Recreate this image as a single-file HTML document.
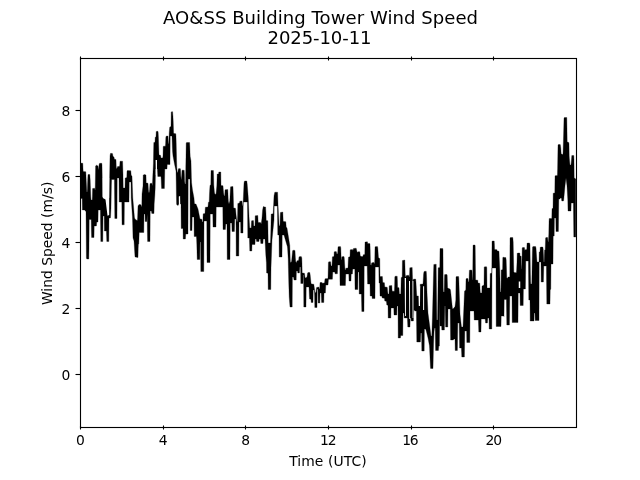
<!DOCTYPE html>
<html lang="en">
<head>
<meta charset="utf-8">
<title>AO&amp;SS Building Tower Wind Speed 2025-10-11</title>
<style>
html,body{margin:0;padding:0;background:#fff;}
body{width:640px;height:480px;overflow:hidden;}
svg{display:block;}
text{font-family:"DejaVu Sans","Liberation Sans",sans-serif;fill:#000;}
.t{font-size:18.06px;text-anchor:middle;letter-spacing:0px;}
.l{font-size:13.89px;text-anchor:middle;letter-spacing:0px;}
.yt{font-size:13.89px;text-anchor:end;}
.tick{stroke:#000;stroke-width:1.1111;fill:none;}
.frame{stroke:#000;stroke-width:1.1111;fill:none;stroke-linejoin:miter;stroke-linecap:square;}
.data{fill:#000;stroke:#000;stroke-width:0.3;stroke-linejoin:round;}
.hole{fill:#fff;stroke:none;}
</style>
</head>
<body>
<svg width="640" height="480" viewBox="0 0 640 480">
<rect x="0" y="0" width="640" height="480" fill="#ffffff"/>
<defs><clipPath id="ax"><rect x="80.0" y="57.6" width="496.0" height="369.6"/></clipPath></defs>
<g clip-path="url(#ax)"><path class="data" d="M80 163L82.8 163.3L83 168.77L83.2 171.51L85.8 171.8L86 175.9L86.2 180L86.8 192L87 192L87.2 192L87.4 189L87.6 183L87.8 178.17L88 174.5L88.2 174.5L89.8 174.5L90 177.25L90.2 180L90.4 185.67L90.8 197L91 200L91.2 200L92.2 200L92.4 196.17L92.6 188.5L92.8 188.47L94.6 188.2L94.8 189.1L95 190L95.2 190L95.4 178L95.6 165.92L96.4 165.28L96.6 165.25L98 166L98.2 167.8L98.4 169.6L98.6 169.4L99 165L99.2 164.32L99.4 163.64L99.6 163.3L101.8 163.3L102 165.1L102.2 176.33L102.4 197L102.6 197.05L104.4 197.48L104.6 197.52L107 198L107.2 198L109.2 198L109.4 189L109.6 180L109.8 168L110 156L110.2 154.92L110.4 153.84L110.6 153.31L112.4 153.49L112.6 154.1L113 156.5L113.2 156.6L114 157L114.2 158.1L114.4 159.2L114.6 159.24L116 159.5L116.2 165.5L116.4 168.5L117 168.5L117.2 167.7L117.4 166.9L117.6 166.5L119.4 166.5L119.6 166L119.8 165L120 161.2L120.2 161.2L122.6 161.2L122.8 168.1L123 175L123.2 188L123.4 188L125 188L125.2 178L125.4 177.94L126.8 177.5L127 171L127.2 170.8L127.4 170.6L127.6 170.51L130.8 170.7L131 173.1L131.2 175.5L131.4 175.62L132 176L132.2 181.6L132.4 187.2L132.6 192.67L132.8 198L134.4 216.82L134.6 218.13L136 220L137.4 220.47L137.6 217.6L138 206L138.2 205.7L139 204.5L139.2 204.53L141 204.8L141.2 205.44L141.8 207.36L142 194L143 186L143.2 175L143.4 174.92L144.4 174.54L144.6 174.53L146 175L146.2 183L146.4 183.02L148 183.2L148.2 186.32L148.4 189.44L148.6 191.4L149 193L149.2 192.2L149.4 191.4L149.6 189.5L150 183.5L150.2 183.47L151.8 183.2L152 184.13L152.4 186L152.6 181L152.8 176L153 172L153.2 168L153.4 163.5L153.6 151.5L153.8 142.5L154 142.47L155 142.3L155.2 137.18L156 137L156.2 131.49L158 131.3L158.2 133.1L158.4 137L159 155L159.2 155.03L160.4 155.19L160.6 155.6L160.8 156.67L161 158L161.2 158L162.6 158L162.8 157.33L163 156L163.2 147L163.4 146.2L163.6 146.2L165.4 146.2L165.6 143.47L165.8 138L166 136.2L166.2 136.18L168 136L168.2 140.67L168.4 143.2L168.8 144L169 138.5L169.2 133L169.4 130.6L169.6 128.2L169.8 126.96L171 126.5L171.2 112.3L171.4 111.9L171.6 111.7L172.6 111.7L172.8 114.22L173 116.74L173.2 121L173.6 133L173.8 133.25L174 133.5L174.2 133.52L175.8 133.7L176 136.57L176.2 142.5L176.4 151.5L176.6 161L176.8 167.2L177.2 172L177.4 172.17L177.8 172.5L178 171.1L178.2 169.7L178.4 168.88L178.6 168.63L178.8 168.51L180.4 168.69L180.6 171.13L180.8 176L181 178L181.2 180L181.4 178.4L181.6 176.8L181.8 174.07L182 170.2L182.2 170.2L184.2 170.2L184.4 173.8L184.6 181L184.8 182.5L185 184L185.2 184L185.6 184L185.8 166L186 156L186.2 143L186.4 142.75L186.6 142.5L189.6 142.5L189.8 146.17L190 152L190.2 156.56L191 161L191.2 169.4L191.4 177.8L191.6 182.8L192.4 189.2L192.6 190.53L194 198L194.2 200.4L194.4 202.8L194.6 204L196 204L198 209L199.8 218L200 219L201.8 219.2L202 220.6L202.2 222L202.4 222L202.8 222L203 217.9L203.2 213.8L203.4 213.77L205 213.5L205.2 209.3L205.4 207.19L208 207L208.2 204.6L208.4 202.2L208.6 202.15L209.2 202L209.4 196L209.6 191.44L210 185.2L210.2 185.15L210.8 185L211 170.5L211.2 170.5L213.4 170.5L213.6 175.33L213.8 185L214 187.29L214.4 191.86L214.6 193.2L215 194L215.2 194.1L216 194.5L216.2 192.38L216.8 186L217 180L217.2 174L217.4 174L218.6 174L218.8 172L219 172L220.8 172L221 185.5L221.2 185.52L223 185.7L223.2 188.22L223.4 190.74L223.6 192.7L224 195.5L224.2 195.64L224.6 195.93L224.8 193.93L225 189.8L225.2 189.78L227.8 189.5L228 194.1L228.2 198.7L228.4 201.43L229 204L229.2 203.25L229.8 201L230 196.94L230.4 188.83L230.6 186.79L233 186.5L233.2 192.83L233.4 200L233.6 208L233.8 208.02L235.4 208.19L235.6 209.36L236 214L236.2 215.87L236.8 221.5L237 221.5L237.4 221.5L237.6 215.5L237.8 203.5L238 203.44L239.4 203.03L239.6 202.4L239.8 201.2L240 201.18L242 201L242.2 203.25L242.4 205.5L242.6 205.75L242.8 206L243 203.5L243.2 201L243.4 196.5L244 183L244.2 182.2L244.4 181.4L244.6 181L246.8 181L247 182.5L247.2 184L247.4 186.54L248.2 196.73L248.4 200.57L249 216L249.2 219.2L249.4 222.4L249.6 226L249.8 228L251.2 228L251.4 223.2L251.6 220.79L253.4 220.52L253.6 222.33L253.8 226L254 226L255 226L255.2 215.8L255.4 215.78L257.8 215.5L258 219L258.2 222.5L258.4 222.5L260.4 222.5L260.6 222.71L261.2 224L261.4 222.5L262 218L262.2 215.33L262.6 210L262.8 209L263.2 207L263.4 206.75L263.8 206.25L264 207L265.6 207L265.8 210.5L266 214L266.2 220.5L266.4 220.52L267.8 220.7L268 232L268.2 243L268.4 243L270.4 243L270.6 239.33L270.8 232L271 223L271.2 214L271.4 213.98L273.2 213.8L273.4 209.35L274 196L274.2 195.05L274.8 192.2L275 192.2L277.6 192.2L277.8 198.1L278 204L278.2 208L279 224L279.2 224.8L279.4 225.6L279.6 226L280 226L280.2 217L280.4 212.48L282.8 212L283 216.5L283.2 221L283.4 221.25L283.6 221.5L283.8 221.52L285.8 221.7L286 224.35L286.2 227L286.4 227.25L286.8 227.75L287 228L288.4 236.4L288.6 237.65L289.8 245.5L290 252.1L290.2 258.7L290.4 262.1L290.8 262.5L291 262.36L291.4 262.07L291.6 260.98L292.6 250.8L292.8 250.5L293 250.2L293.2 250.22L295 250.4L295.2 254.2L295.4 258L295.6 260L295.8 262L296 262.14L296.4 262.43L296.6 262.16L297 260.8L297.2 260.76L298.6 260.5L298.8 258.65L299 256.8L299.2 256.77L301.2 256.51L301.4 256.8L301.8 258L302 264L302.2 273L302.4 273.02L304.4 273.19L304.6 274.06L305 277.5L305.2 277.62L305.8 278L306 277.83L307 277L307.2 275.67L307.6 273L307.8 272.75L308 272.5L308.2 272.5L309.8 272.5L310 273.75L310.2 275L310.4 277L311 283L311.2 283.5L311.4 284L311.6 284.02L313.8 284.2L314 285.57L314.4 288.31L314.6 289.5L315.2 292.5L315.4 292.57L316 292.8L316.2 290.68L316.4 288.56L316.6 287.48L318.8 287L319 287.9L319.2 288.8L319.4 288.88L319.6 288.96L319.8 286.93L320 282.5L322 282.5L322.4 283.2L324.4 283.01L324.6 282.16L325 278.8L325.2 278.78L328 278.5L328.2 270.5L328.4 262.5L328.6 262.15L328.8 261.8L329 261.8L330.6 261.8L330.8 263.65L331 265.5L331.2 265.7L331.4 265.9L331.6 265.9L332 265.5L332.2 261.15L332.4 256.8L332.6 256.76L334 256.5L334.2 251.8L334.4 251.77L336.2 251.51L336.4 251.96L336.8 253.8L337 253.9L337.2 254L337.4 253.8L337.6 253.6L337.8 251.27L338 246.8L338.2 246.78L340.4 246.51L340.6 247L340.8 248L341 254L341.2 260L341.4 260L341.6 258.93L341.8 256.8L342 256.77L344 256.5L344.2 257.5L344.4 259.71L345 270L345.2 270L345.4 270L345.6 269.4L345.8 268.2L346 268.18L348 268L348.2 262.67L348.4 258.5L348.6 256.99L350 256.8L350.2 249.8L350.4 249.77L352.4 249.51L352.6 249.77L352.8 250.3L353 250.43L353.2 249.83L353.4 248.5L353.6 248.48L356.2 248.2L356.4 249.1L356.6 250L356.8 250.83L357.2 252.5L357.4 252.27L357.8 251.8L358 251.8L359.8 251.8L360 253.65L360.2 255.5L360.4 255.75L361 256.5L361.2 256.5L363 256.5L363.2 254.8L363.4 254.76L364.8 254.5L365 242L365.2 241.98L367.4 241.81L367.6 242.8L367.8 243.8L368 243.8L368.2 243.5L368.4 243.5L369.8 243.5L370 244.5L370.2 250L370.4 260L370.6 265.03L371.2 265.2L371.4 264.24L371.6 263.28L371.8 262.79L374 262.5L374.2 263.37L374.4 263.8L374.6 263.8L374.8 258.14L375 246.8L375.2 246.78L377.4 246.51L377.6 247L377.8 248L378 250.86L378.4 256.57L378.6 258.04L379.8 258.5L380 276.5L382.4 276.5L382.6 279.5L382.8 282.51L384.4 282.69L384.6 284.85L384.8 287.01L387.2 287.19L387.4 288.47L387.6 291L387.8 292.5L388 294L388.2 294L389 294L389.2 285.8L389.4 285.78L391.8 285.5L392 289.17L392.2 291.05L392.4 291.15L392.6 291.2L394.4 291.2L394.6 286.47L394.8 277L395 276.6L395.2 276.2L395.4 276.2L397.2 276.2L397.4 279.97L397.6 287.5L397.8 287.53L399 287.7L399.2 290.85L399.4 294L399.6 294L400.8 294L401 285.75L401.2 277.5L401.4 277.4L402.2 277L402.4 260.5L402.6 260.46L404.8 260L405 267L405.2 274L405.4 275.5L405.6 277L405.8 277L406 277L406.2 276L406.4 275.49L408.6 275.21L408.8 275.65L409 276.55L409.2 277L409.4 277L409.6 273.93L409.8 267.8L410 267.78L412.2 267.5L412.4 274.25L412.6 281L412.8 281L413 281L413.2 279.8L413.4 279.19L415.6 279.01L415.8 280.25L416 282.75L416.2 286L416.4 290L416.6 293.33L416.8 296L417 296L419.8 296L420 290.1L420.2 284.2L420.4 284.19L423 284L423.2 280.67L423.6 274L423.8 272.75L424 271.5L424.2 271.47L426.2 271.2L426.4 273.07L426.6 277.6L427 292L427.2 296.2L428 313L428.2 314.5L430 328L430.2 329.6L431 336L431.2 336L431.8 336L432 329.72L432.4 317.14L432.6 310L433.4 278L433.6 270.84L433.8 264.5L434 264.48L436.2 264.2L436.4 282.73L436.6 301.33L436.8 319.99L437 320L437.6 320L437.8 302.01L438 284.01L438.2 267.8L438.4 267.76L439.8 267.5L440 248.5L442.8 248.5L443 250L443.2 288L443.4 292L443.6 292L444.2 292L444.4 280.67L444.6 274.83L444.8 274.5L445 274.5L447 274.5L447.2 275.5L447.4 282L447.6 288.04L450 289L450.2 289.4L450.4 289.8L450.6 290.95L452.4 308.05L452.6 308.95L453.4 308.55L453.6 308.37L455 306.5L455.2 304.88L455.8 300L456 277L456.2 276.75L456.4 276.5L456.6 276.5L458.6 276.5L458.8 278L459 284L460 314L460.2 315.73L461.4 326.13L461.6 327L463 327L463.2 322.4L464 304L464.2 298.8L464.4 293.6L464.6 290.92L465.8 290L466 279L466.2 278.67L466.4 278.5L468 278.5L468.2 280L468.4 281.5L468.6 281.67L469 282L469.2 274.33L469.4 270.38L469.6 270.13L469.8 270.01L472 270.2L472.2 276.73L472.4 280L472.6 280L472.8 268.5L473 245.5L473.2 245.17L473.4 245L475 245L475.2 246.33L475.4 263.49L475.6 280.01L477.8 280.2L478 283L478.2 283.02L479.8 283.2L480 288L480.2 291.33L480.4 293L481.8 293L482 286L482.2 285.9L484 285L484.2 267.2L484.4 266.93L484.6 266.8L486.6 266.8L486.8 268.27L487 287.99L487.2 288L490 288L490.2 273.5L490.4 273.44L491.8 273L492 241.51L492.2 241.17L492.4 241L494.2 241L494.4 243.83L494.6 249.5L494.8 249.52L497 249.7L497.2 251L497.4 251.02L499 251.2L499.2 257L499.4 261.33L499.8 270L500 279L500.2 288L500.4 292L500.6 292L501 292L501.2 270.01L501.4 269.93L502.6 269.5L502.8 257.5L503 257.42L503.8 257.08L504 257.5L505.8 257.5L506 258.75L506.2 260L506.4 266L506.8 278L507 278.04L507.8 278.2L508 277L508.2 277L509.8 277L510 238L510.2 237.75L510.4 237.5L510.6 237.5L512.8 237.5L513 239.75L513.2 242L513.4 252L513.8 272L514 272.25L514.2 272.5L514.4 272.52L516.4 272.69L516.6 270.56L517 262L517.2 253.5L517.4 253.25L517.6 253L517.8 253L519.8 253L520 256L520.2 256.03L521.2 256.2L521.4 264.73L521.6 269L521.8 269L522 262L522.2 248L522.4 247.75L522.6 247.5L522.8 247.5L524.4 247.5L524.6 248.5L524.8 250.5L525 250.15L525.2 249.8L525.4 249.76L526.8 249.5L527 243.5L527.2 243.25L527.4 243L527.6 243L529.6 243L529.8 244L530 245L530.2 259L530.4 273L530.6 281.33L530.8 284L531 284L531.8 284L532 273L532.2 262L532.4 252L532.6 246.9L533 246.5L533.2 246.5L535.6 246.5L535.8 247.25L536 248L536.2 250.8L537 262L537.2 262L539 262L539.2 252L539.4 251.95L540 251.8L540.2 247.5L540.4 247.25L540.6 247L540.8 247L542.8 247L543 248L543.2 249L543.4 253.33L543.8 262L544 262L544.2 262L544.4 254L544.6 250L545.2 250L545.4 244L545.6 237.88L545.8 237.63L546 237.5L547.6 237.5L547.8 239.5L548 241.5L548.2 241.75L548.4 242L548.6 238L548.8 234L549 222L549.2 218.5L549.4 218.5L551.8 218.5L552 208.5L552.2 208.5L553 208.5L553.2 193.19L554.8 193L555 175.8L555.2 175.78L557.4 175.51L557.6 168.75L557.8 156.33L558 145L558.2 144.75L558.4 144.5L558.6 144.5L560.2 144.5L560.4 145.2L560.8 148L561 151L561.2 154L561.4 154.06L563 154.5L563.2 147.9L563.4 141.3L563.6 134L564 118L564.2 117.75L564.4 117.5L564.6 117.5L566.8 117.5L567 129.75L567.2 142L567.4 142.06L568.8 142.5L569 144L569.2 156L569.4 158.67L569.6 161L570 165L570.2 165L571 165L571.2 162.67L571.6 158L571.8 155.5L572 155.5L573.8 155.5L574 160L574.2 178L574.4 178.12L575.8 179L575.8 237L573.8 237L573.6 220L573.4 203L571.4 203L571.2 203L571 211L568.2 211L568 211L567.8 200L567.2 189.5L567 186L566.2 179.6L566 178L565.2 184.4L565 186L563.8 198.92L563.6 200.5L563.4 201L561.8 201L561.6 199.5L561.4 198L560.4 198L560.2 198L560 199L558.8 199L558.6 215.25L558.4 231.5L556.2 231.5L556 231.5L555.8 218L554.6 218L554.4 218L554.2 236L553.4 236L553.2 236L553 264L551.2 264L551 264L550.8 289L550.4 289.67L550.2 290L550 304L546.8 304L546.6 284.99L546.4 266L543.8 266L543.6 274L543.4 282L541.4 282L541.2 282L541 262L539.4 262L539.2 262.01L539 320.5L535.4 320.5L535.2 320.5L535 313L534.4 313L534.2 313L534 321L530.4 321L530.2 321L530 300L528.8 300L528.6 280.5L528.4 261L525.8 261L525.6 275L525.4 289L523.6 289L523.4 289L523.2 305.5L520.4 305.5L520.2 305.5L520 293L518.4 293L518.2 293L518 322.5L512.4 322.5L512.2 322.5L512 296L509.8 296L509.6 310.5L509.4 325L506.8 325L506.6 312.25L506.4 299.5L504.4 299.5L504.2 299.5L504 316.5L503.8 316L501.4 316L501.2 316L501 326.5L496.4 326.5L496.2 326.49L496 268L492.2 268L492 268.01L491.8 329L489.4 329L489.2 329L489 318L487.8 318L487.6 320.5L487.4 323L485.6 323L485.4 321L485.2 319L481.4 319L481.2 319L481 332L478.8 332L478.6 326L478.4 320L474.4 320L474.2 320L474 311L470.2 311L470 311L469.8 342.5L467 342.5L466.8 342.5L466.6 331L464.8 331L464.6 344L464.4 357L461.8 357L461.6 352.5L461.4 348L459.6 348L459.4 335.5L459.2 323L457.8 323L457.6 336.75L457.4 350.5L455.4 350.5L455.2 350.5L455 339L453.8 339L453.6 339.5L453.4 340L450.6 340L450.4 324.5L450.2 309L448.2 309L448 309L447.8 327L445.6 327L445.4 316.5L445.2 306L444.8 306L444.6 318L444.4 330L442 330L441.8 330L441.6 326L440 326L439.8 298L439.6 322.01L439.4 346L438.8 346L438.6 348.25L438.4 350.5L435.6 350.5L435.4 339.24L435.2 328L434.6 328L434.4 328.8L434.2 330.4L434 332L433.6 343.2L433.4 350.5L433.2 359.5L433 368.5L430.6 368.5L430.4 366.25L429.6 348.25L429.4 345.47L428.2 339.07L428 338L426.2 330.8L426 330L425.6 329.2L425.4 329L424.6 329L424.4 329L424.2 351L422 351L421.8 351L421.6 333L420.8 333L420.6 337.5L420.4 342L416.8 342L416.6 326.49L416.4 311L414.8 311L414.6 310.5L414.4 310L413.8 310L413.6 315.5L413.4 321L411.4 321L411.2 321L411 318L410.4 318L410.2 318L410 327L407.8 327L407.6 322.5L407.4 318L404.4 318L404.2 318L404 313L403.2 313L403 313L402.8 335.5L400.8 335.5L400.6 336.75L400.4 338L398.4 338L398.2 338L398 306L397.2 306L397 306L396.8 315L394.2 315L394 315L393.8 308L391.2 308L391 308L390.8 318L388.4 318L388.2 318L388 305.2L386.8 305.02L386.6 303.1L386.4 301.19L384.8 301.01L384.6 299.6L384.4 298.19L382.4 298.02L382.2 298L382 296.2L380 296L379.8 283L379.2 283L379 283L378.8 267L375.4 267L375.2 267.01L375 298.5L372.4 298.5L372.2 298.5L372 296L370.4 296L370.2 296L370 284L367.6 284L367.4 275L367.2 266L364.4 266L364.2 266.01L364 311.5L361.8 311.5L361.6 302.75L361.4 294L359.4 294L359.2 294L359 272L358.2 272L358 272L357.8 289.5L355.2 289.5L355 289.5L354.8 269L352.8 269L352.6 271.5L352.4 274L351.4 274L351.2 274L351 281L349.2 281L349 281L348.8 274L345.8 274L345.6 279.75L345.4 285.5L340.2 285.5L340 285.5L339.8 265L337.8 265L337.6 269.4L337.4 273.8L335.2 273.8L335 273.8L334.8 272L332.8 272L332.6 275.6L332.4 279.2L328.6 279.2L328.4 280.36L328.2 282.68L328 285L325.8 285L325.6 289L325.4 293L324.2 293L324 293L323.8 302.5L321.6 302.5L321.4 297.75L321.2 293L320 293L319.8 303L318.4 303L318.2 303L318 289.17L317.2 289.35L317 307.5L315 307.5L314.8 307.5L314.6 295.83L314.4 290.31L314.2 290L313.4 290L313.2 290L313 302.5L311.4 302.5L311.2 302.5L311 299.2L309.6 299.01L309.4 296.6L309.2 291.8L309 287L306.4 287L306.2 287L306 307L304 307L303.8 307L303.6 275.12L303.2 275.09L303 283.5L301 283.5L300.8 283.5L300.6 267L299.8 267L299.6 270L299.4 273L298 273L297.8 273L297.6 271L296.6 271L296.4 271L296.2 280L294.2 280L294 280L293.6 277.6L293.4 277L292.6 277L292.4 277L292.2 307L290.2 307L290 307L289.4 299.5L289.2 297L289 290.5L288.8 284L288.4 268L288.2 258.9L287.6 248.7L287.4 246.66L284.2 235.69L284 235L282.4 235L282.2 235L282 257L279.4 257L279.2 257L279 235L277.8 235L277.6 220.5L277.4 206L274.2 206L274 220L272.2 238L272 240L271 268L270.8 289.5L268.4 289.5L268.2 289.5L268 273.2L266.8 273.03L266.6 273L266.4 262.71L266 257.57L265.8 255L265.2 243L265 239L263.4 239L263.2 239L263 243.5L260.8 243.5L260.6 241.25L260.4 239L259.4 239L259.2 239L259 241.5L256.6 241.5L256.4 240.25L256.2 239L255.4 239L255.2 239L255 244.5L252.2 244.5L252 244.5L251.8 251L249.8 251L249.6 244.5L249.4 238L248 238L247.8 238L247.6 214L247.4 202L243.4 202L243.2 203L243 233L241 233L240.8 233L240.6 222L239.2 222L239 222L238.8 256L236.4 256L236.2 255.99L236 219L234.8 219L234.6 225.25L234.4 231.5L232.2 231.5L232 231.5L231.8 223L230.4 223L230.2 223L230 259.5L227.4 259.5L227.2 259.5L227 224L225.8 224L225.6 226.75L225.4 229.5L223.2 229.5L223 229.5L222.8 207L216.4 207L216.2 207L216 227L213.2 227L213 227L212.8 214L210.4 214L210.2 214L210 262.5L207.2 262.5L207 262.5L206.8 221L204.2 221L204 221L203.8 271.5L201 271.5L200.8 271.5L200.6 242L200.2 242L200 242L199.8 259.5L197.4 259.5L197.2 259.5L197 251.75L196.8 244L196.6 239L196.4 236.5L194.4 236.5L194.2 236.5L194 217L192.4 217L192.2 217L192 230.5L190.4 230.5L190.2 230.5L190 179L188.4 179L188.2 179L188 234L185.8 234L185.6 236.5L185.4 239L183.4 239L183.2 239L183 228.5L181.4 228.5L181.2 228.5L181 204L179 204L178.8 204L178.6 204.8L178.4 205.2L177.4 205.2L177.2 205.2L176.6 204.17L176.4 195L176.2 181L176 171L174.6 164.47L174.4 163.47L173.2 157.07L173 156L172.6 152L172.4 148L172.2 142L172 136L170.4 136L170.2 136L170 164.5L167.4 164.5L167.2 164.5L167 169L164.8 169L164.6 178.75L164.4 188.5L161.6 188.5L161.4 184.75L161.2 179.5L161 176.5L157.8 176.5L157.6 172.75L157.4 169L155.6 169L155.4 177.5L155.2 188L155 192L154.8 196L154.2 204L154 213.5L151.8 213.5L151.6 212.25L151.4 211L150.4 211L150.2 211L150 241.5L147.6 241.5L147.4 232.33L147.2 214L147 217.75L146.8 221.5L145.4 221.5L145.2 221.5L145 214L144.2 214L144 214L143.8 232.5L139.4 232.5L139.2 232.5L139 238.25L138.8 244L138.4 244L138.2 248.5L138 257.5L135.2 257.03L135 257L134.2 244.2L134 241L133.2 238.6L133 238L132.6 222L132.4 216.46L131.4 201.08L131.2 198L131 182L129.4 182L129.2 182L129 202L124.6 202L124.4 202L124.2 224.8L122.2 224.8L122 224.8L121.8 202L119.4 202L119.2 202L119 178L117.4 178L117.2 178.01L117 218.5L114.8 218.5L114.6 198.99L114.4 179.5L111.6 179.5L111.4 185.2L111.2 196.6L111 208L110.6 216L110.4 218L109.2 218L109 218L108.8 241.5L106.8 241.5L106.6 236.25L106.4 231L104.6 231L104.4 231L104.2 216L103.2 216L103 216L102.8 241.5L100.8 241.5L100.6 225.75L100.4 210L98.4 210L98.2 210L98 222L96.8 222L96.6 224L96.4 226L94.4 226L94.2 226L94 237.5L91.6 237.5L91.4 231.5L91.2 219.5L89.4 219.5L89.2 219.5L89 248L88.8 259L87 259L86.8 259L86.6 258.5L86.4 258L86.2 234.75L86 211.5L85.4 211.12L85.2 211L85 210L82.6 210L82.4 210L82.2 198.5L80 198.5Z"/><path class="hole" d="M102.8 178L109.2 178L109.2 215L107.5 215.8L105.5 199.5L102.8 198ZM404.7 278L406 278L405.9 316L405 316ZM409 281L410 281L410.1 319L409.3 319ZM418.3 287L420.2 286L420 306L418.8 306ZM155.6 160L157 160L157 175L155.8 175ZM178.8 196.5L180.1 196L180.3 207L178.9 207ZM518.75 281.5L520.25 281.5L520.25 288L518.75 288ZM526.25 274L528 274L528 288L526 288ZM412.4 281L413.4 281L413.4 318L412.6 318ZM423.12 286.25L424.12 286.25L424.12 310L423.12 310Z"/></g>
<g class="tick">
<line x1="80.5" y1="425.5" x2="80.5" y2="429.5"/><line x1="80.5" y1="56.5" x2="80.5" y2="60.5"/>
<line x1="163.5" y1="425.5" x2="163.5" y2="429.5"/><line x1="163.5" y1="56.5" x2="163.5" y2="60.5"/>
<line x1="245.5" y1="425.5" x2="245.5" y2="429.5"/><line x1="245.5" y1="56.5" x2="245.5" y2="60.5"/>
<line x1="328.5" y1="425.5" x2="328.5" y2="429.5"/><line x1="328.5" y1="56.5" x2="328.5" y2="60.5"/>
<line x1="411.5" y1="425.5" x2="411.5" y2="429.5"/><line x1="411.5" y1="56.5" x2="411.5" y2="60.5"/>
<line x1="493.5" y1="425.5" x2="493.5" y2="429.5"/><line x1="493.5" y1="56.5" x2="493.5" y2="60.5"/>
<line x1="75.5" y1="374.5" x2="80.5" y2="374.5"/>
<line x1="75.5" y1="308.5" x2="80.5" y2="308.5"/>
<line x1="75.5" y1="242.5" x2="80.5" y2="242.5"/>
<line x1="75.5" y1="176.5" x2="80.5" y2="176.5"/>
<line x1="75.5" y1="110.5" x2="80.5" y2="110.5"/>
</g>
<rect class="frame" x="80.5" y="58.5" width="496" height="369"/>
<text class="l" x="80.4" y="445.1">0</text>
<text class="l" x="163.07" y="445.1">4</text>
<text class="l" x="245.73" y="445.1">8</text>
<text class="l" x="327.85" y="445.1" style="letter-spacing:-1.1px">12</text>
<text class="l" x="409.87" y="445.1" style="letter-spacing:-1.1px">16</text>
<text class="l" x="493.18" y="445.1" style="letter-spacing:-1.1px">20</text>
<text class="yt" x="70.28" y="379.65">0</text>
<text class="yt" x="70.28" y="313.65">2</text>
<text class="yt" x="70.28" y="247.65">4</text>
<text class="yt" x="70.28" y="181.65">6</text>
<text class="yt" x="70.28" y="115.65">8</text>
<text class="l" x="327.9" y="466.2" style="letter-spacing:0.08px">Time (UTC)</text>
<text class="l" transform="translate(52.0 243.4) rotate(-90)">Wind Speed (m/s)</text>
<text class="t" x="320.5" y="24.3" style="letter-spacing:0.05px">AO&amp;SS Building Tower Wind Speed</text>
<text class="t" x="319.5" y="44.3" style="letter-spacing:-0.1px">2025-10-11</text>
</svg>
</body>
</html>
